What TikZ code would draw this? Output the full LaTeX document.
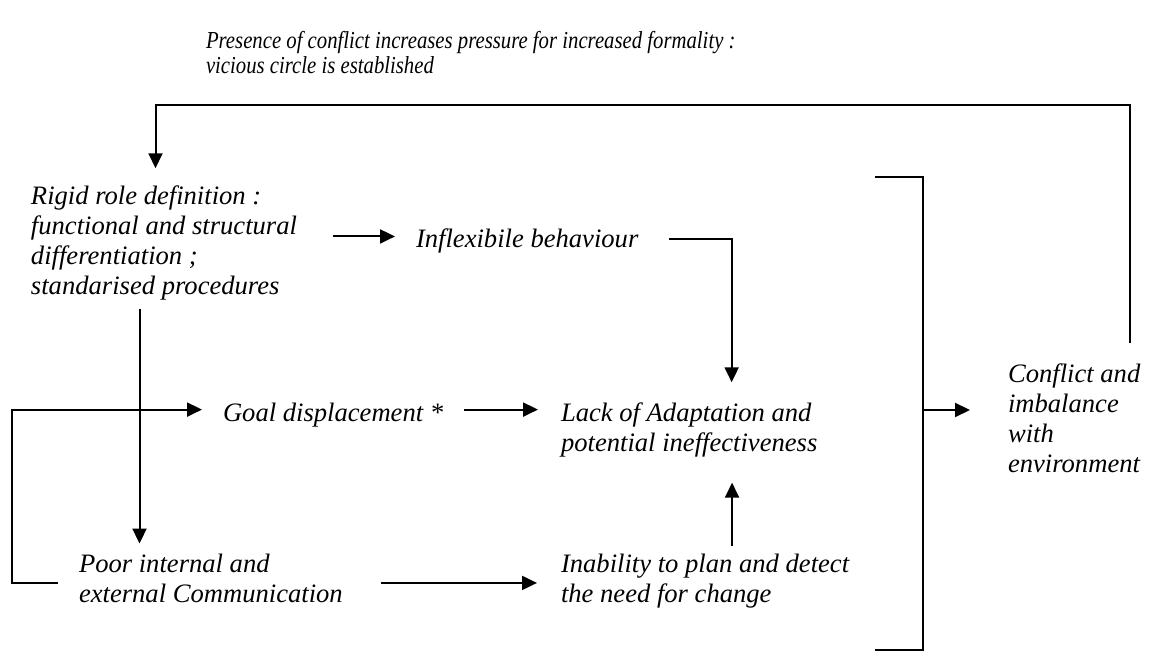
\documentclass[tikz,border=0pt]{standalone}
\usepackage{fontspec}
\setmainfont{Liberation Serif}
\newfontfamily\titlefont[FakeStretch=0.85]{Liberation Serif}
\usepackage{tikz}
\usetikzlibrary{arrows.meta}

\tikzset{
  txt/.style={anchor=base west,inner sep=0pt,align=left,font=\itshape\fontsize{13.3}{15}\selectfont},
  link/.style={->,line width=1pt}
}

\begin{document}
\begin{tikzpicture}[x=0.5pt,y=-0.5pt,>={Triangle[length=7.5pt,width=7pt]},line width=1pt]
\useasboundingbox (0,0) rectangle (1155,656);
% texts (placed at the baseline of their last line)
\node[txt,font=\titlefont\itshape\fontsize{12.2}{12.5}\selectfont] (title) at (205,74) {Presence of conflict increases pressure for increased formality :\\vicious circle is established};
\node[txt] (rigid) at (30,295) {Rigid role definition :\\functional and structural\\differentiation ;\\standarised procedures};
\node[txt] (inflex) at (415,248) {Inflexibile behaviour};
\node[txt] (goal) at (222,422) {Goal displacement *};
\node[txt] (lack) at (560,452) {Lack of Adaptation and\\potential ineffectiveness};
\node[txt] (poor) at (78,603) {Poor internal and\\external Communication};
\node[txt] (inab) at (560,603) {Inability to plan and detect\\the need for change};
\node[txt] (confl) at (1007,473) {Conflict and\\imbalance\\with\\environment};
% connectors
\draw[link,shorten >=10pt] ([xshift=17.5pt,yshift=3.5pt]rigid.east) coordinate (a) -- (a -| inflex.west);
\draw[link,shorten >=10pt] ([xshift=15pt,yshift=1pt]inflex.east) -| ([xshift=21.25pt]lack.north);
\draw[link,shorten >=5pt] ([xshift=-12.25pt,yshift=-3.5pt]rigid.south) coordinate (b) -- (b |- poor.north);
\draw[link,shorten >=10pt] ([xshift=-10pt,yshift=-2pt]poor.west) -- ++(-23pt,0) |- ([yshift=3pt]goal.west);
\draw[link,shorten >=11pt] ([xshift=10pt,yshift=3pt]goal.east) coordinate (c) -- (c -| lack.west);
\draw[link,shorten >=11.5pt] ([xshift=18.5pt,yshift=-2pt]poor.east) coordinate (e) -- (e -| inab.west);
\draw[link,shorten >=12pt] ([xshift=13.5pt,yshift=4pt]inab.north) coordinate (d) -- (d |- lack.south);
% bracket
\coordinate (brtop) at (875,177);
\coordinate (brbot) at (875,650);
\coordinate (brmid) at (923,410);
\draw (brtop) -- ++(24pt,0) |- (brbot);
\draw[link,shorten >=18.5pt] (brmid) -- (brmid -| confl.west);
% feedback loop
\draw[link,shorten >=8.5pt] ([xshift=28pt,yshift=10pt]confl.north) |- ([yshift=-15pt]title.south) -| ([xshift=-4.25pt]rigid.north);
\end{tikzpicture}
\end{document}
